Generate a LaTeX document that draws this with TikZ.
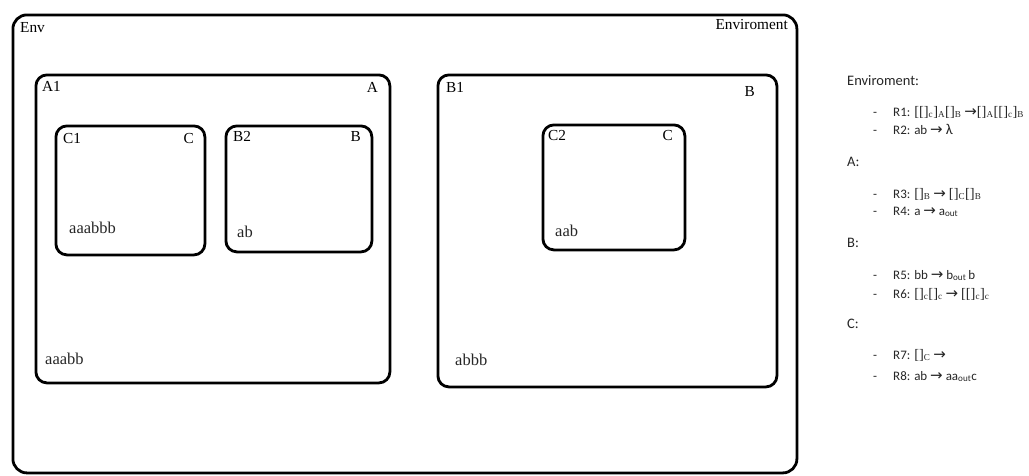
\documentclass[tikz,border=0pt]{standalone}
\usepackage{fontspec}
\setmainfont{Liberation Serif}
\newfontfamily\rulefont{Carlito}
\newfontfamily\arrowfont{DejaVu Sans}
\newcommand{\sbx}[1]{\textsubscript{\rmfamily #1}}
\newcommand{\br}[1]{{\rmfamily\fontsize{14.5}{16}\selectfont #1}}
\newcommand{\arr}{{\arrowfont\fontsize{15}{16}\selectfont\char"2192}}
\begin{document}
\begin{tikzpicture}[x=1pt,y=-1pt,
  box/.style={draw,line width=2.8pt,rounded corners=11pt,inner sep=0pt,anchor=north west},
  lbl/.style={inner sep=0pt,font=\fontsize{15.3}{17}\selectfont},
  content/.style={inner sep=0pt,anchor=base west,text=black!85,font=\fontsize{16.5}{19}\selectfont},
  head/.style={inner sep=0pt,anchor=base west,text=black!85,font=\rulefont\fontsize{14.5}{17}\selectfont},
  rule/.style={inner sep=0pt,anchor=base west,text=black!85,font=\rulefont\fontsize{13}{15}\selectfont},
  bullet/.style={inner sep=0pt,anchor=base west,text=black!85,font=\rulefont\fontsize{13}{15}\selectfont}]
\useasboundingbox (0,0) rectangle (1029,475);
% boxes
\node[box,rounded corners=14pt,minimum width=784pt,minimum height=458pt] (env) at (11.5,13.5) {};
\node[box,minimum width=354pt,minimum height=308pt] (a1) at (34.5,73.5) {};
\node[box,minimum width=149pt,minimum height=129pt] (c1) at (54.5,124.5) {};
\node[box,minimum width=146pt,minimum height=126pt] (b2) at (224.5,124.5) {};
\node[box,minimum width=339pt,minimum height=312pt] (b1) at (436.5,73.5) {};
\node[box,minimum width=142pt,minimum height=125pt] (c2) at (541.5,123.5) {};
% labels
\node[lbl,anchor=base west] (envl) at (20,32) {Env};
\node[lbl,anchor=base east] (envr) at (788,29) {Enviroment};
\node[lbl,anchor=base west] (a1l) at (42,91) {A1};
\node[lbl,anchor=base east] (a1r) at (378,92) {A};
\node[lbl,anchor=base west] (c1l) at (63,143) {C1};
\node[lbl,anchor=base east] (c1r) at (194,143) {C};
\node[lbl,anchor=base west] (b2l) at (233,141) {B2};
\node[lbl,anchor=base east] (b2r) at (361,141) {B};
\node[lbl,anchor=base west] (b1l) at (446,92) {B1};
\node[lbl,anchor=base east] (b1r) at (755,96) {B};
\node[lbl,anchor=base west] (c2l) at (548,140) {C2};
\node[lbl,anchor=base east] (c2r) at (673,140) {C};
% contents
\node[content] (c1c) at (69,233) {aaabbb};
\node[content] (b2c) at (237,237) {ab};
\node[content] (a1c) at (45,364) {aaabb};
\node[content] (c2c) at (555,236) {aab};
\node[content] (b1c) at (455,365) {abbb};
% rules
\node[head] (henv) at (847,85) {Enviroment:};
\node[bullet] (d1) at (873,116) {-};
\node[rule] (r1) at (893,116) {R1: \br{[[]}\sbx{c}\br{]}\sbx{A}\br{[]}\sbx{B} \arr\br{[]}\sbx{A}\br{[[]}\sbx{c}\br{]}\sbx{B}};
\node[bullet] (d2) at (873,134) {-};
\node[rule] (r2) at (893,134) {R2: ab \arr\ {\fontsize{15}{16}\selectfont λ}};
\node[head] (ha) at (847,166) {A:};
\node[bullet] (d3) at (873,198) {-};
\node[rule] (r3) at (893,198) {R3: \br{[]}\sbx{B} \arr\ \br{[]}\sbx{C}\br{[]}\sbx{B}};
\node[bullet] (d4) at (873,215) {-};
\node[rule] (r4) at (893,215) {R4: a \arr\ a\textsubscript{out}};
\node[head] (hb) at (847,247) {B:};
\node[bullet] (d5) at (873,279) {-};
\node[rule] (r5) at (893,279) {R5: bb \arr\ b\textsubscript{out}\,b};
\node[bullet] (d6) at (873,298) {-};
\node[rule] (r6) at (893,298) {R6: \br{[]}\sbx{c}\br{[]}\sbx{c} \arr\ \br{[[]}\sbx{c}\br{]}\sbx{c}};
\node[head] (hc) at (847,328) {C:};
\node[bullet] (d7) at (873,359) {-};
\node[rule] (r7) at (893,359) {R7: \br{[]}\sbx{C} \arr};
\node[bullet] (d8) at (873,380) {-};
\node[rule] (r8) at (893,380) {R8: ab \arr\ aa\textsubscript{out}c};
\end{tikzpicture}
\end{document}
